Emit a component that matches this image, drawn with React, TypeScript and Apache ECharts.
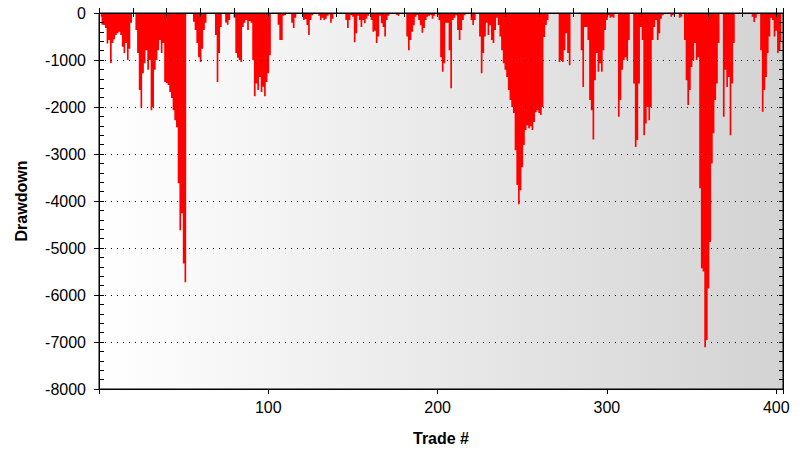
import React, { useEffect, useRef } from 'react';
import * as echarts from 'echarts';

// Drawdown per trade (trade # = index + 1)
const drawdown: number[] = [
  -80, -250, -255, -320, -650, -575, -1065, -640, -560, -470,
  -430, -400, -470, -720, -850, -640, -1000, -760, -210, 0,
  0, -360, -850, -1640, -2020, -1280, -1070, -790, -1210, -1000,
  -2070, -2000, -1210, -1000, -790, -575, -850, -640, -1470, -1490,
  -1530, -1680, -1810, -2070, -2280, -2430, -3620, -4620, -4260, -5330,
  -5730, 0, 0, 0, 0, -185, -360, -640, -940, -1040,
  -760, -360, -210, 0, 0, 0, 0, 0, -470, -1470,
  -850, -300, 0, 0, -200, -250, -150, 0, 0, -100,
  -850, -950, -1000, -1040, -300, -210, -150, -360, -170, -210,
  -1000, -1770, -1500, -1640, -1360, -1680, -1570, -1770, -1470, -1280,
  -900, 0, 0, 0, 0, -250, -575, -575, -60, -40,
  0, 0, 0, -210, -320, -100, 0, 0, 0, 0,
  -150, -130, -255, -470, -150, -50, 0, 0, 0, -60,
  -150, -100, -150, -120, -60, -30, -210, -120, 0, 0,
  0, 0, 0, 0, 0, -150, -320, -150, -40, -80,
  -620, -430, -60, -150, -300, -150, -220, -120, -60, 0,
  -150, -400, -380, -640, -500, -60, -220, -300, -500, -150,
  -60, 0, 0, 0, 0, -40, -60, 0, 0, 0,
  0, -500, -790, -575, -400, -260, -80, -40, -150, -260,
  -420, -320, -150, -80, -60, -40, -120, -60, 0, -40,
  -150, -940, -1250, -1070, -210, -210, -790, -1600, -150, -100,
  -50, -360, -575, -360, -150, -50, 0, 0, 0, -150,
  -255, -150, 0, 0, -500, -1280, -850, -500, -210, -470,
  -260, -575, -640, -360, -100, -255, -500, -790, -1070, -1210,
  -1360, -1640, -1850, -2000, -2130, -2920, -3660, -4070, -3770, -3280,
  -2810, -2490, -2390, -2450, -2410, -2490, -2320, -2110, -2070, -2130,
  -2170, -2000, -510, -255, -150, 0, 0, 0, 0, 0,
  0, -1040, -1000, -1040, -790, -430, -850, -1110, 0, 0,
  0, 0, 0, 0, -790, -1575, -300, -300, -575, -1850,
  -2070, -2690, -1430, -850, -1250, -1070, -1250, -790, -360, -150,
  -50, -100, -80, -100, 0, 0, -2210, -1850, -1210, -1000,
  -940, -1000, -575, 0, 0, -1500, -2850, -2700, -1500, -300,
  -575, -2600, -2350, -2000, -2280, -2000, -575, -300, -150, -575,
  -430, -120, -50, 0, 0, 0, 0, -80, -50, 0,
  0, 0, -100, -80, 0, -575, -1430, -1960, -1640, -1150,
  -1000, -640, -1000, -940, -3730, -5430, -5500, -7110, -6960, -5860,
  -4870, -3200, -2560, -1850, -1500, -640, 0, 0, -2210, -1210,
  -1575, -1360, -2600, -1500, -640, 0, 0, 0, 0, 0,
  0, 0, 0, 0, 0, -80, -190, -100, 0, 0,
  -790, -2100, -1640, -1360, -850, -500, -100, -150, -500, -380,
  -850, -800, -600,
];

const xTickLabels = [100, 200, 300, 400];
const X_MIN = 0;
const X_MAX = 404;
const Y_MIN = -8000;
const Y_MAX = 0;
const X_NAME = 'Trade #';
const Y_NAME = 'Drawdown';

export default function App() {
  const ref = useRef<HTMLDivElement>(null);

  useEffect(() => {
    if (!ref.current) return;
    const chart = echarts.init(ref.current, null, { renderer: 'svg' });
    const font = '"Liberation Sans", Arial, sans-serif';
    const data = drawdown.map((v, i) => [i + 1, v]);
    const black = '#000';

    chart.setOption({
      animation: false,
      backgroundColor: '#ffffff',
      grid: {
        left: 99,
        right: 29,
        top: 13,
        bottom: 73,
        show: true,
        borderColor: black,
        borderWidth: 1,
        backgroundColor: new echarts.graphic.LinearGradient(0, 0, 1, 0, [
          { offset: 0, color: '#ffffff' },
          { offset: 1, color: '#d3d3d3' },
        ]),
      },
      xAxis: [
        {
          type: 'value',
          min: X_MIN,
          max: X_MAX,
          interval: 100,
          position: 'bottom',
          z: 10,
          name: X_NAME,
          nameLocation: 'middle',
          nameGap: 41,
          nameTextStyle: { color: black, fontSize: 16, fontWeight: 'bold', fontFamily: font },
          axisLine: { show: true, onZero: false, lineStyle: { color: black, width: 1 } },
          axisTick: { show: true, inside: false, length: 5, lineStyle: { color: black } },
          axisLabel: {
            color: black,
            fontSize: 16,
            fontFamily: font,
            margin: 10,
            formatter: (v: number) => (xTickLabels.includes(v) ? String(v) : ''),
          },
          splitLine: { show: false },
        },
        {
          type: 'value',
          min: X_MIN,
          max: X_MAX,
          interval: 20,
          position: 'bottom',
          z: 10,
          axisLine: { show: false },
          axisTick: { show: true, inside: true, length: 5, lineStyle: { color: black } },
          axisLabel: { show: false },
          splitLine: { show: false },
        },
        {
          type: 'value',
          min: X_MIN,
          max: X_MAX,
          interval: 20,
          position: 'top',
          z: 10,
          axisLine: { show: true, onZero: false, lineStyle: { color: black, width: 1 } },
          axisTick: { show: true, inside: true, length: 4, lineStyle: { color: black } },
          axisLabel: { show: false },
          splitLine: { show: false },
        },
      ],
      yAxis: [
        {
          type: 'value',
          min: Y_MIN,
          max: Y_MAX,
          interval: 1000,
          position: 'left',
          z: 10,
          name: Y_NAME,
          nameLocation: 'middle',
          nameGap: 70,
          nameTextStyle: { color: black, fontSize: 16, fontWeight: 'bold', fontFamily: font },
          axisLine: { show: true, onZero: false, lineStyle: { color: black, width: 1 } },
          axisTick: { show: true, inside: false, length: 5, lineStyle: { color: black } },
          axisLabel: {
            color: black,
            fontSize: 16,
            fontFamily: font,
            margin: 13,
            formatter: (v: number) => String(v),
          },
          splitLine: { show: true, lineStyle: { color: black, width: 1, type: [1, 5] } },
        },
        {
          type: 'value',
          min: Y_MIN,
          max: Y_MAX,
          interval: 200,
          position: 'left',
          z: 10,
          axisLine: { show: false },
          axisTick: { show: true, inside: true, length: 5, lineStyle: { color: black } },
          axisLabel: { show: false },
          splitLine: { show: false },
        },
        {
          type: 'value',
          min: Y_MIN,
          max: Y_MAX,
          interval: 200,
          position: 'right',
          z: 10,
          axisLine: { show: true, onZero: false, lineStyle: { color: black, width: 1 } },
          axisTick: { show: true, inside: true, length: 4, lineStyle: { color: black } },
          axisLabel: { show: false },
          splitLine: { show: false },
        },
      ],
      series: [
        {
          type: 'line',
          xAxisIndex: 0,
          yAxisIndex: 0,
          data,
          step: 'middle',
          symbol: 'none',
          silent: true,
          lineStyle: { width: 0, color: '#ff0000' },
          areaStyle: { color: '#ff0000', opacity: 1 },
          z: 5,
        },
      ],
    });

    return () => {
      chart.dispose();
    };
  }, []);

  return (
    <div
      ref={ref}
      style={{ position: 'fixed', left: 0, top: 0, width: 812, height: 462, background: '#fff' }}
    />
  );
}
